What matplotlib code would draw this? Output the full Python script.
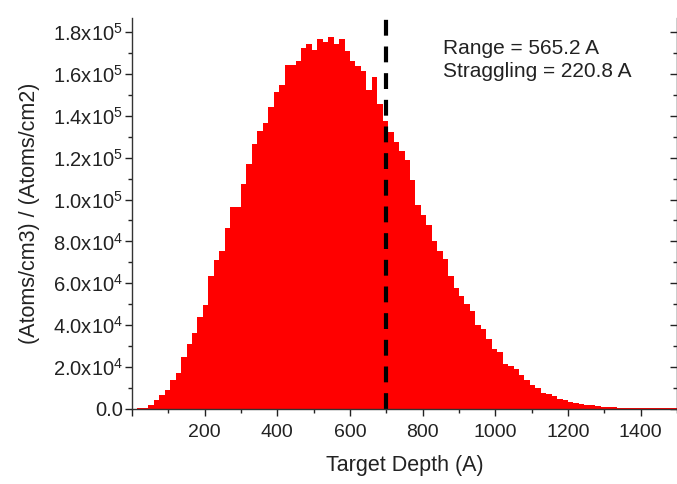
import matplotlib
matplotlib.use("Agg")
import matplotlib.pyplot as plt
from matplotlib.ticker import MultipleLocator, FuncFormatter, NullFormatter

plt.rcParams['font.family'] = ['Liberation Sans', 'DejaVu Sans']
plt.rcParams['mathtext.fontset'] = 'custom'
plt.rcParams['mathtext.rm'] = 'Liberation Sans'
plt.rcParams['mathtext.default'] = 'regular'

# histogram, 15 A bins from 0 to 1500 A
bin_width = 15
bin_start = [i * bin_width for i in range(100)]
counts = [
    100, 300, 700, 1800, 4300, 6700, 9200, 13700, 17100, 24900,
    31000, 36400, 43700, 49800, 63300, 71200, 75600, 86200, 96400, 96500,
    107400, 117000, 126400, 132700, 136300, 144200, 151300, 154800, 164100, 164100,
    166300, 172300, 174400, 171200, 176500, 175200, 177700, 174100, 176800, 170700,
    166200, 163800, 161200, 152400, 158300, 145600, 137500, 132300, 127500, 123200,
    118700, 109100, 97600, 92400, 87600, 80400, 75300, 71700, 63700, 57800,
    54100, 50100, 46900, 40200, 38200, 33400, 28600, 27000, 21700, 20600,
    19000, 16300, 13700, 11500, 9900, 7800, 7300, 6200, 4900, 4300,
    3400, 2900, 2200, 1800, 1700, 1300, 1000, 900, 800, 700,
    700, 600, 600, 500, 500, 450, 400, 400, 350, 300,
]
marker_depth = 700
info_lines = ["Range = 565.2 A", "Straggling = 220.8 A"]

fig = plt.figure(figsize=(6.77, 4.84), dpi=100)
ax = fig.add_axes([0.195, 0.155, 0.805, 0.808])

ax.bar(bin_start, counts, width=bin_width, align='edge', color='#ff0000', linewidth=0)
ax.axvline(marker_depth, color='black', lw=3, dashes=(3.8, 2.6))

ax.set_xlim(0, 1500)
ax.set_ylim(0, 1.867e5)

ax.xaxis.set_major_locator(MultipleLocator(200))
ax.xaxis.set_minor_locator(MultipleLocator(100))
ax.yaxis.set_major_locator(MultipleLocator(2e4))
ax.yaxis.set_minor_locator(MultipleLocator(1e4))


def sci(v, pos):
    if v == 0:
        return "0.0"
    e = 0
    m = v
    while abs(m) >= 10:
        m /= 10
        e += 1
    return "%.1fx10$^{%d}$" % (m, e)


ax.yaxis.set_major_formatter(FuncFormatter(sci))
ax.xaxis.set_major_formatter(FuncFormatter(lambda v, p: "%d" % v if v > 0 else ""))

ax.tick_params(which='both', direction='out', colors='#222222',
               right=False, top=False)
ax.tick_params(which='major', length=5, width=1)
ax.tick_params(which='minor', length=3, width=1)
ax.tick_params(axis='x', labelsize=14, pad=6)
ax.tick_params(axis='y', labelsize=14.5, pad=1.5)
for s in ax.spines.values():
    s.set_color('#333333')
    s.set_linewidth(1)
ax.spines['top'].set_visible(False)

# right axis: ticks pointing inward, no labels
rax = ax.secondary_yaxis('right')
rax.yaxis.set_major_locator(MultipleLocator(2e4))
rax.yaxis.set_minor_locator(MultipleLocator(1e4))
rax.yaxis.set_major_formatter(NullFormatter())
rax.tick_params(which='both', direction='in', colors='#222222')
rax.tick_params(which='major', length=5, width=1)
rax.tick_params(which='minor', length=3, width=1)
rax.spines['right'].set_color('#333333')

ax.set_xlabel("Target Depth (A)", fontsize=15.5, color='#222222', labelpad=10)
ax.set_ylabel("(Atoms/cm3) / (Atoms/cm2)", fontsize=15.5, color='#222222', labelpad=9)

ax.text(0.57, 0.945, "\n".join(info_lines), transform=ax.transAxes, fontsize=15,
        color='#222222', va='top', linespacing=1.25)

fig.savefig("out.png", dpi=100)
